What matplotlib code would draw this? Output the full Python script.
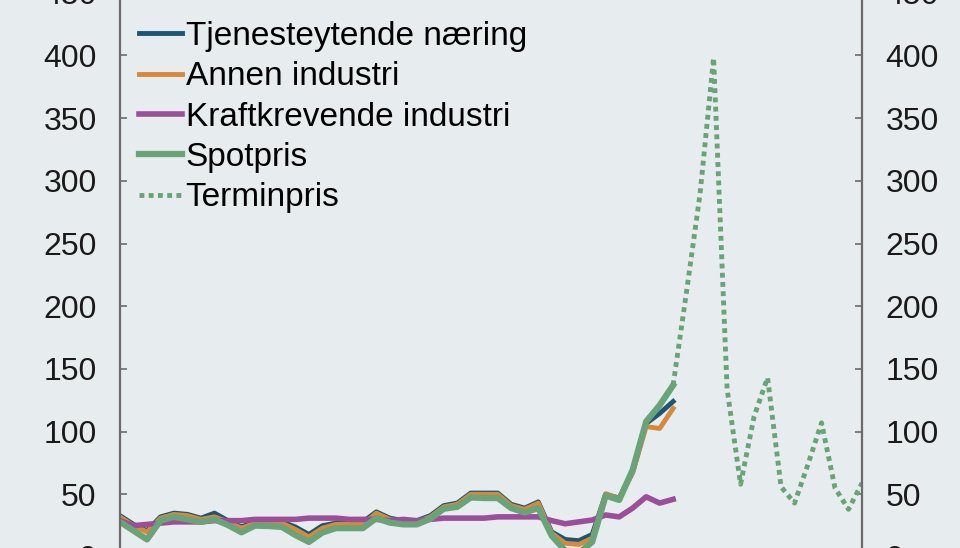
import matplotlib

matplotlib.use("Agg")
import matplotlib.pyplot as plt
import numpy as np

# quarterly, 2012K1 .. 2025K4
years = list(range(2012, 2026))
quarters = [f"{y}K{q}" for y in years for q in range(1, 5)]

# observed prices, 2012K1 .. 2022K2 (oere/kWh)
tjenesteytende = [33, 26, 21, 32, 35, 34, 31, 35, 29, 24,
                  28, 28, 28, 24, 18, 25, 27, 28, 28, 36,
                  31, 29, 29, 33, 41, 43, 51, 51, 51, 42,
                  39, 44, 20, 14, 13, 18, 50, 47, 68, 106.5,
                  114.5, 124]
annen_industri = [32, 25, 20, 31, 34, 33, 30, 32, 28, 23,
                  27, 27, 27, 22, 16, 23, 26, 26, 26, 35,
                  30, 28, 28, 32, 40, 42, 50, 50, 50, 41,
                  38, 43, 19, 11, 10, 15, 50.5, 46.5, 67, 104,
                  102.5, 118.5]
kraftkrevende = [29, 25, 26, 27, 28, 28, 28, 29, 29, 29,
                 30, 30, 30, 30, 31, 31, 31, 30, 30, 30,
                 29, 30, 29, 30, 31, 31, 31, 31, 32, 32,
                 32, 32, 29, 26.5, 28, 29.5, 33.5, 32, 39, 48,
                 43, 46]
spotpris = [28, 21, 14, 29, 32, 30, 28, 30, 25.5, 19.7,
            25, 24.7, 24, 17.5, 12, 19.5, 23, 23, 23, 31,
            27.4, 26, 26, 30.5, 38.5, 40, 47.5, 47, 47, 39,
            35.5, 39, 17, 5, 3, 12, 49, 45.5, 69.5, 108,
            121, 137]
# forward prices, 2022K2 .. 2025K4
terminpris = [137, 212, 290, 398, 134, 58, 112, 143, 56, 43,
              74, 107, 55, 38, 59]

BG = "#e7ecee"
C_BLUE = "#1d5577"
C_ORANGE = "#d6893a"
C_PURPLE = "#9c4e9a"
C_GREEN = "#6aa378"

plt.rcParams["font.family"] = ["Liberation Sans", "DejaVu Sans"]

fig = plt.figure(figsize=(9.6, 5.48), dpi=100, facecolor=BG)
ax = fig.add_axes([120 / 960, -9 / 548, 742 / 960, 564.3 / 548])
ax.set_facecolor(BG)

x_obs = np.arange(len(spotpris))
x_term = np.arange(len(spotpris) - 1, len(spotpris) - 1 + len(terminpris))

ax.plot(x_obs, tjenesteytende, color=C_BLUE, lw=3.5, label="Tjenesteytende næring")
ax.plot(x_obs, annen_industri, color=C_ORANGE, lw=3.5, label="Annen industri")
ax.plot(x_obs, kraftkrevende, color=C_PURPLE, lw=4.0, label="Kraftkrevende industri")
ax.plot(x_obs, spotpris, color=C_GREEN, lw=4.5, label="Spotpris")
ax.plot(x_term, terminpris, color=C_GREEN, lw=3.5, linestyle=(0, (1.0, 0.9)),
        dash_capstyle="butt", label="Terminpris")

ax.set_xlim(0, len(quarters) - 1)
ax.set_ylim(0, 450)
ax.set_yticks(np.arange(0, 451, 50))
ax.set_xticks(np.arange(0, len(quarters), 4))

for side in ["left", "right", "top", "bottom"]:
    ax.spines[side].set_color("#6b6b6b")
    ax.spines[side].set_linewidth(1.6)
ax.yaxis.set_ticks_position("both")
ax.tick_params(axis="y", direction="in", length=5, width=1.2, color="#6b6b6b",
               labelsize=23, pad=16.8, labelright=True, labelcolor="#1a1a1a")
ax.tick_params(axis="x", direction="in", length=5, width=1.2, color="#6b6b6b",
               labelbottom=False)

ax.legend(loc="upper left", bbox_to_anchor=(138.6 / 960, 1 - 21 / 548),
          bbox_transform=fig.transFigure, frameon=False, fontsize=24,
          borderpad=0, borderaxespad=0, handlelength=1.3, handletextpad=0.11,
          labelspacing=0.28)

fig.savefig("out.png", dpi=100, facecolor=BG)
